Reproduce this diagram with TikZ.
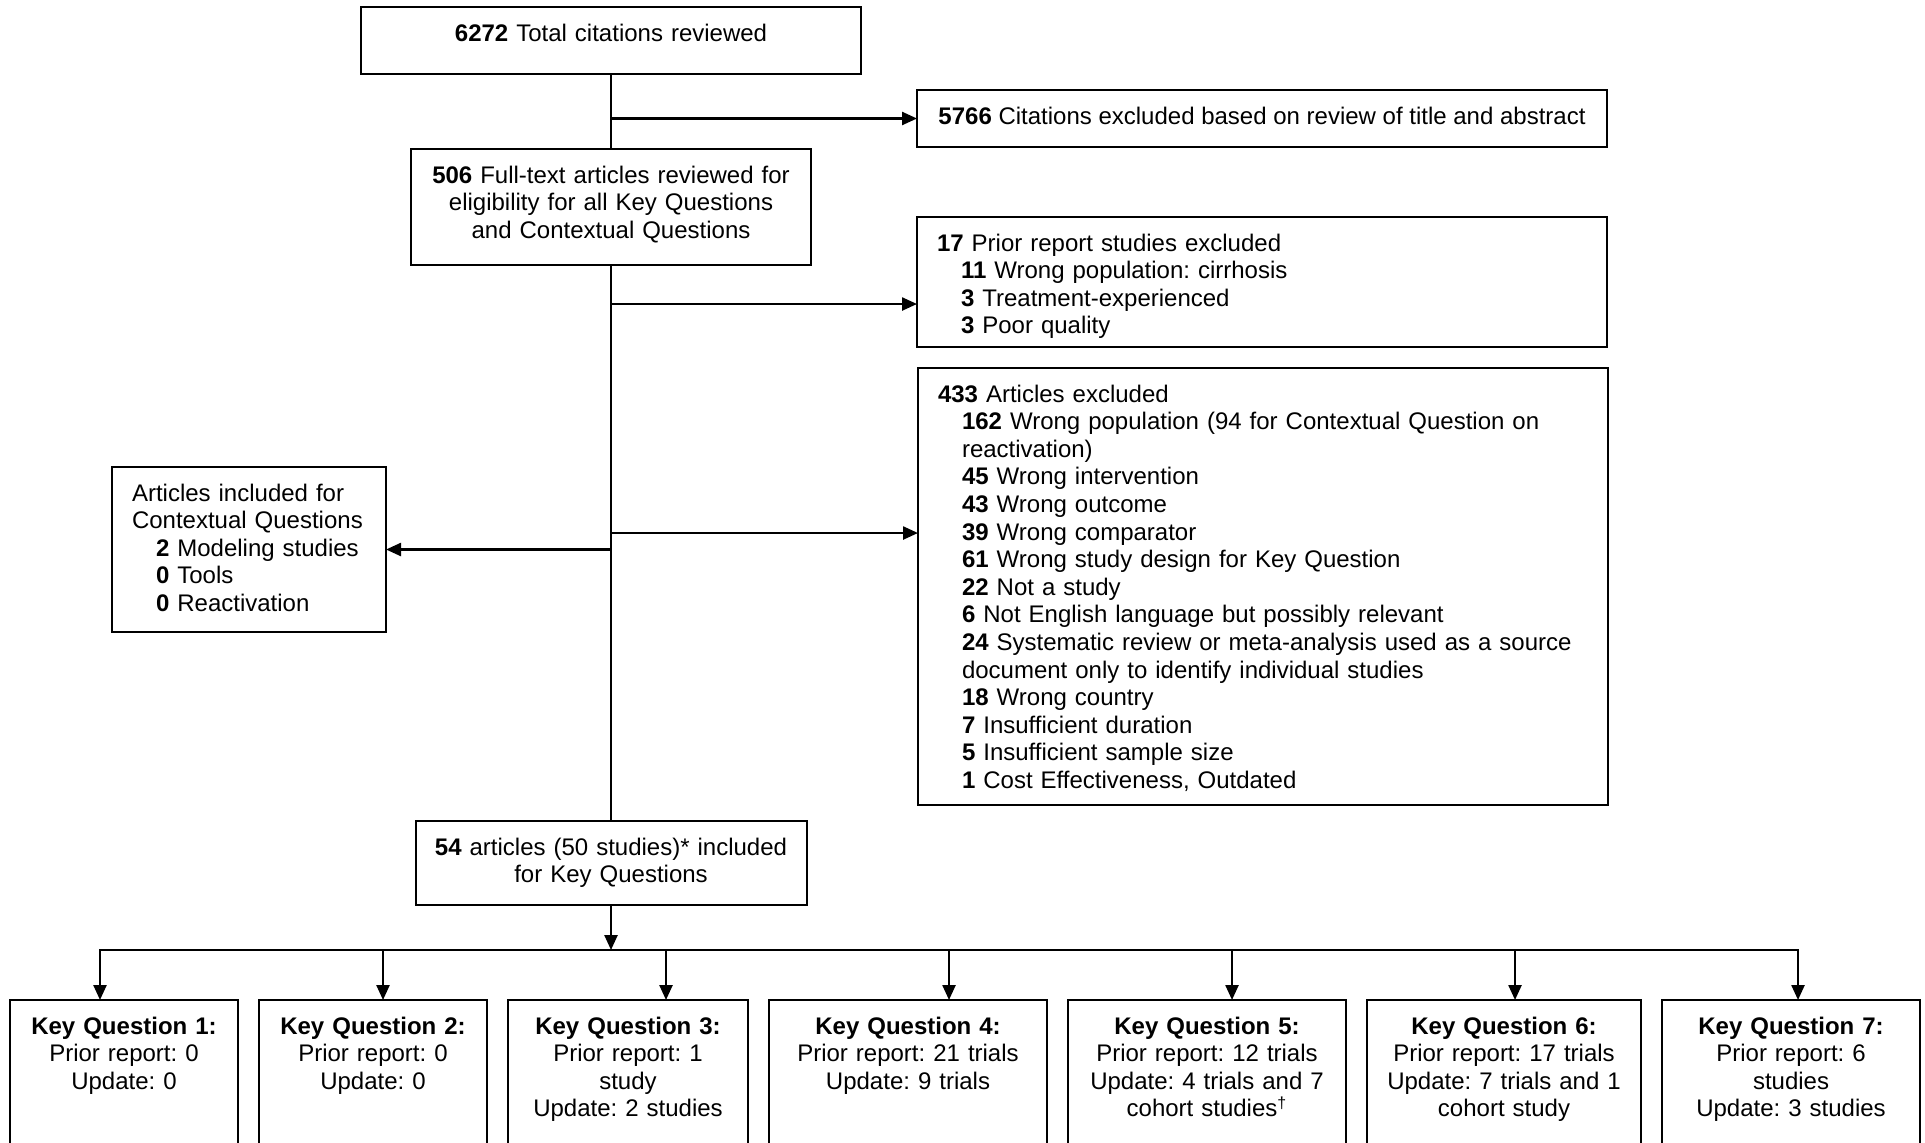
\documentclass[tikz,border=0pt]{standalone}
\usepackage{fontspec}
\setmainfont{Liberation Sans}
\usetikzlibrary{arrows.meta}
\usetikzlibrary{chains,positioning}

\begin{document}
\begin{tikzpicture}[
		x=0.5pt, y=-0.5pt,
		font=\fontsize{12}{13.8}\selectfont\frenchspacing,
		node distance=10.5pt,
		X/.style = {rectangle, draw, line width=1pt,% boxes of the flow chart
			inner xsep=10pt, inner ysep=8pt,
			text height=9pt, outer sep=0pt},
		XC/.style = {X, align=center, inner xsep=6pt, anchor=north},
		XL/.style = {X, align=left, anchor=north west},
		KQ/.style = {X, align=center, inner xsep=4pt,
			text depth=55pt, on chain}, % boxes of the bottom row
		LN/.style = {line width=1.2pt, line cap=rect},
		AR/.style = {line width=1.2pt,
			-{Triangle[length=7.5pt,width=6.5pt]}},
		]
		\path[use as bounding box] (0,0) rectangle (1925,1142);
		\clip (0,0) rectangle (1925,1142);

		\node[XC, text width=238pt, text depth=8.5pt] (total) at (611,7)
			{\textbf{6272} Total citations reviewed};
		\node[X, anchor=north, minimum width=345pt, text depth=3.5pt] (title) at (1262,90)
			{\textbf{5766} Citations excluded based on review of title and abstract};
		\node[XC, text width=188pt, text depth=33pt] (full) at (611,149)
			{\textbf{506} Full-text articles reviewed for\\eligibility for all Key Questions\\and Contextual Questions};
		\node[XL, text width=325pt, text depth=40pt] (prior) at (917,217)
			{\textbf{17} Prior report studies excluded\\
			\hspace*{1em}\textbf{11} Wrong population: cirrhosis\\
			\hspace*{1em}\textbf{3} Treatment-experienced\\
			\hspace*{1em}\textbf{3} Poor quality};
		\node[XL, text width=325pt, text depth=193.5pt] (arts) at (918,368)
			{\textbf{433} Articles excluded\\
			\hspace*{1em}\textbf{162} Wrong population (94 for Contextual Question on\\
			\hspace*{1em}reactivation)\\
			\hspace*{1em}\textbf{45} Wrong intervention\\
			\hspace*{1em}\textbf{43} Wrong outcome\\
			\hspace*{1em}\textbf{39} Wrong comparator\\
			\hspace*{1em}\textbf{61} Wrong study design for Key Question\\
			\hspace*{1em}\textbf{22} Not a study\\
			\hspace*{1em}\textbf{6} Not English language but possibly relevant\\
			\hspace*{1em}\textbf{24} Systematic review or meta-analysis used as a source\\
			\hspace*{1em}document only to identify individual studies\\
			\hspace*{1em}\textbf{18} Wrong country\\
			\hspace*{1em}\textbf{7} Insufficient duration\\
			\hspace*{1em}\textbf{5} Insufficient sample size\\
			\hspace*{1em}\textbf{1} Cost Effectiveness, Outdated};
		\node[XL, text width=117pt, text depth=57.5pt] (ctx) at (112,467)
			{Articles included for\\Contextual Questions\\
			\hspace*{1em}\textbf{2} Modeling studies\\
			\hspace*{1em}\textbf{0} Tools\\
			\hspace*{1em}\textbf{0} Reactivation};
		\node[XC, text width=183.5pt, text depth=17pt] (incl) at (611,821)
			{\textbf{54} articles (50 studies)* included\\for Key Questions};

		\begin{scope}[shift={(124,1080)}, start chain = kq going right]
		\foreach \w/\txt in {
			114/{\textbf{Key Question 1:}\\Prior report: 0\\Update: 0},
			114/{\textbf{Key Question 2:}\\Prior report: 0\\Update: 0},
			120/{\textbf{Key Question 3:}\\Prior report: 1\\study\\Update: 2 studies},
			139/{\textbf{Key Question 4:}\\Prior report: 21 trials\\Update: 9 trials},
			139/{\textbf{Key Question 5:}\\Prior report: 12 trials\\Update: 4 trials and 7\\cohort studies\textsuperscript{\dag}},
			137/{\textbf{Key Question 6:}\\Prior report: 17 trials\\Update: 7 trials and 1\\cohort study},
			129/{\textbf{Key Question 7:}\\Prior report: 6\\studies\\Update: 3 studies}}
		\node[KQ, minimum width=\w pt, text width=\w pt-8pt] {\txt};
		\end{scope}

		% trunk and side branches
		\draw[LN] (total.south) -- (full.north);
		\draw[AR] (total.south |- title.west) -- (title.west);
		\draw[LN] (full.south) -- (incl.north);
		\coordinate (j1) at (611,304);
		\coordinate (j2) at (611,533);
		\draw[AR] (j1) -- (j1 -| prior.west);
		\draw[AR] (j2) -- (j2 -| arts.west);
		\draw[AR] (full.south |- ctx.east) -- (ctx.east);

		% bus to the key questions
		\coordinate (bus) at (100,950);
		\draw[AR] (incl.south) -- (incl.south |- bus);
		\foreach \i in {1,...,7}{
			\coordinate (d\i) at ([xshift=(\i-1)*141.5pt]bus);
			\draw[AR] (d\i) -- (d\i |- kq-\i.north);
		}
		\draw[LN] (d1) -- (d7);
	\end{tikzpicture}
\end{document}
